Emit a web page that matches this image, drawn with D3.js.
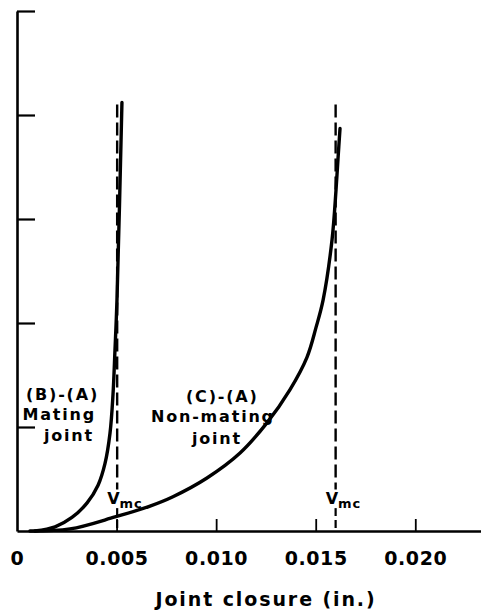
<!DOCTYPE html>
<html>
<head>
<meta charset="utf-8">
<script src="https://cdn.jsdelivr.net/npm/d3@7"></script>
<style>
  body { margin: 0; background: #fff; }
  svg { display: block; }
  text { font-family: "DejaVu Sans", sans-serif; font-weight: bold; fill: #000; }
</style>
</head>
<body>
<svg id="chart" width="481" height="613"></svg>
<script>
// x = joint closure (in.), y = load in tick units (the axis carries no labels)
var matingX = [0.00090, 0.00191, 0.00276, 0.00352, 0.00407, 0.00442, 0.00467, 0.00482, 0.00492, 0.00502, 0.00527];
var matingY = [0, 0.04, 0.13, 0.27, 0.44, 0.65, 0.94, 1.31, 1.74, 2.22, 4.12];

var nonMatingX = [0.00065, 0.00266, 0.00492, 0.00668, 0.00783, 0.00954, 0.01120, 0.01255, 0.01371, 0.01456, 0.01502, 0.01537, 0.01582, 0.01602, 0.01612, 0.01622];
var nonMatingY = [0, 0.02, 0.135, 0.24, 0.33, 0.51, 0.75, 1.04, 1.36, 1.67, 1.96, 2.22, 2.80, 3.28, 3.58, 3.87];

// V_mc limits (dashed) and their top
var vmcX = [0.00503, 0.01600];
var vmcTop = 4.10;

var xTicks = [0, 0.005, 0.010, 0.015, 0.020];
var yTicks = [1, 2, 3, 4, 5];

var svg = d3.select('#chart');

var x = d3.scaleLinear().domain([0, 0.0233]).range([17, 481]);
var y = d3.scaleLinear().domain([0, 5]).range([531, 11]);

// x axis, ticks pointing up into the plot
var xAxis = d3.axisBottom(x)
  .tickValues(xTicks)
  .tickSizeInner(-12)
  .tickSizeOuter(0)
  .tickPadding(21)
  .tickFormat(function(d) { return d === 0 ? '0' : d3.format('.3f')(d); });

var gx = svg.append('g')
  .attr('transform', 'translate(0,' + y(0) + ')')
  .call(xAxis);
gx.select('.domain').attr('stroke', '#000').attr('stroke-width', 2.6);
gx.selectAll('.tick line').attr('stroke', '#000').attr('stroke-width', 1.8)
  .filter(function(d) { return d === 0; }).remove();
gx.selectAll('.tick text')
  .attr('font-size', 19)
  .attr('font-family', '"DejaVu Sans", sans-serif')
  .attr('font-weight', 'bold')
  .attr('letter-spacing', 0.6);

// y axis, ticks pointing right, no labels
var yAxis = d3.axisRight(y)
  .tickValues(yTicks)
  .tickSizeInner(18)
  .tickSizeOuter(0)
  .tickFormat('');

var gy = svg.append('g')
  .attr('transform', 'translate(' + x(0) + ',0)')
  .call(yAxis);
gy.select('.domain').attr('stroke', '#000').attr('stroke-width', 2.6);
gy.selectAll('.tick line').attr('stroke', '#000').attr('stroke-width', 2.2);

// curves
var line = d3.line()
  .x(function(d) { return x(d[0]); })
  .y(function(d) { return y(d[1]); })
  .curve(d3.curveCatmullRom.alpha(0.5));

var series = [d3.zip(matingX, matingY), d3.zip(nonMatingX, nonMatingY)];
svg.selectAll('path.curve')
  .data(series)
  .enter().append('path')
  .attr('class', 'curve')
  .attr('d', line)
  .attr('fill', 'none')
  .attr('stroke', '#000')
  .attr('stroke-width', 3.4)
  .attr('stroke-linecap', 'round');

// V_mc dashed verticals, broken where the label sits
vmcX.forEach(function(v) {
  svg.append('line')
    .attr('x1', x(v)).attr('x2', x(v))
    .attr('y1', y(vmcTop)).attr('y2', y(0.40))
    .attr('stroke', '#000')
    .attr('stroke-width', 2.4)
    .attr('stroke-dasharray', '13,5');
  svg.append('line')
    .attr('x1', x(v)).attr('x2', x(v))
    .attr('y1', y(0.22)).attr('y2', y(0))
    .attr('stroke', '#000')
    .attr('stroke-width', 2.2)
    .attr('stroke-dasharray', '8,4');
  var t = svg.append('text')
    .attr('x', x(v) - 10)
    .attr('y', y(0.26))
    .attr('font-size', 16);
  t.append('tspan').text('V');
  t.append('tspan').attr('dy', 4).attr('font-size', 13).attr('letter-spacing', 1).text('mc');
});

// curve labels
var label = function(lines, anchor, xs, ys) {
  lines.forEach(function(s, i) {
    svg.append('text')
      .attr('x', xs[i]).attr('y', ys[i])
      .attr('text-anchor', anchor)
      .attr('font-size', 16)
      .attr('letter-spacing', 1.8)
      .text(s);
  });
};
label(['(B)-(A)', 'Mating', 'joint'], 'end', [99, 96, 94], [400, 420, 441]);
label(['(C)-(A)', 'Non-mating', 'joint'], 'start', [186, 151, 192], [402, 422, 444]);

// axis title
svg.append('text')
  .attr('x', 266)
  .attr('y', 606)
  .attr('text-anchor', 'middle')
  .attr('font-size', 19)
  .attr('letter-spacing', 1.9)
  .text('Joint closure (in.)');
</script>
</body>
</html>
